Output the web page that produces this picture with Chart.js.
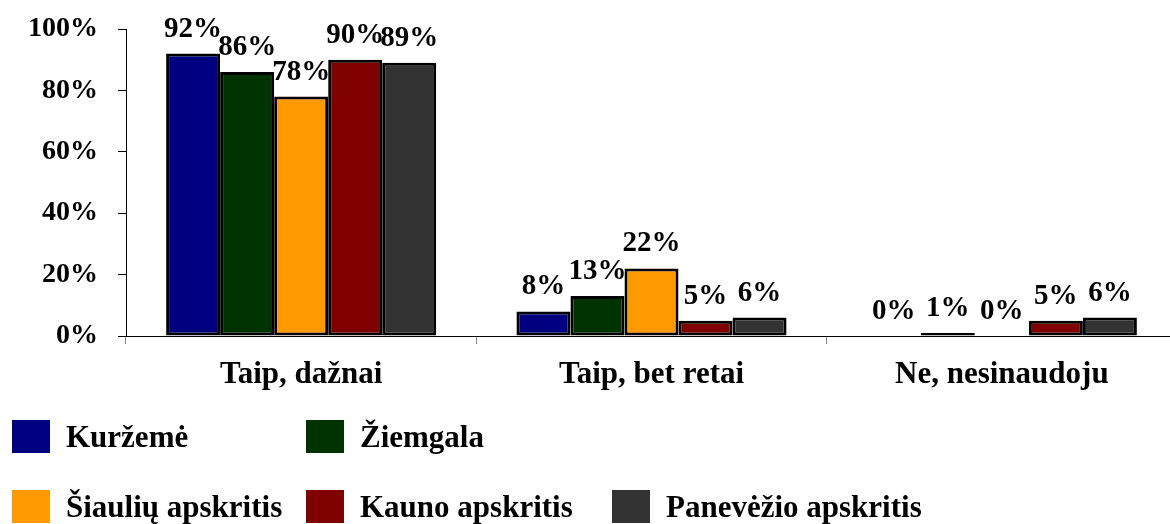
<!DOCTYPE html>
<html>
<head>
<meta charset="utf-8">
<script src="https://cdn.jsdelivr.net/npm/chart.js@4"></script>
<style>
	body { margin: 0; overflow: hidden; background: #fff; }
	#wrap { position: relative; width: 1170px; height: 524px; overflow: hidden; }
	#chart { position: absolute; left: 0; top: 0; }
	.lg-item { position: absolute; height: 33px; display: flex; align-items: center; }
	.lg-box { width: 38px; height: 33px; margin-right: 16px; }
	.lg-text { font: bold 31px "Liberation Serif", serif; color: #000; white-space: nowrap; }
</style>
</head>
<body>
<div id="wrap">
	<canvas id="chart" width="1180" height="524"></canvas>
</div>
<script>
// Data
const categories = ['Taip, dažnai', 'Taip, bet retai', 'Ne, nesinaudoju'];
const seriesNames = ['Kuržemė', 'Žiemgala', 'Šiaulių apskritis', 'Kauno apskritis', 'Panevėžio apskritis'];
const kurzeme = [92, 8, 0];
const ziemgala = [86, 13, 1];
const siauliai = [78, 22, 0];
const kaunas = [90, 5, 5];
const panevezys = [89, 6, 6];
const yTicks = [0, 20, 40, 60, 80, 100];

const seriesValues = [kurzeme, ziemgala, siauliai, kaunas, panevezys];
const seriesColors = ['#000080', '#003300', '#FF9900', '#800000', '#333333'];

const serif = '"Liberation Serif", serif';

// value labels above every bar
const barLabels = {
	id: 'barLabels',
	afterDatasetsDraw(chart) {
		const ctx = chart.ctx;
		ctx.save();
		ctx.font = `bold 29px ${serif}`;
		ctx.fillStyle = '#000';
		ctx.textAlign = 'center';
		ctx.textBaseline = 'alphabetic';
		chart.data.datasets.forEach((ds, i) => {
			chart.getDatasetMeta(i).data.forEach((bar, j) => {
				ctx.fillText(`${Math.round(ds.data[j])}%`, bar.x, bar.y - 17);
			});
		});
		ctx.restore();
	}
};

new Chart(document.getElementById('chart'), {
	type: 'bar',
	data: {
		labels: categories,
		datasets: seriesNames.map((name, i) => ({
			label: name,
			data: seriesValues[i],
			backgroundColor: seriesColors[i],
			borderColor: '#000',
			borderWidth: 3,
			borderSkipped: false,
			barPercentage: 1,
			categoryPercentage: 0.771
		}))
	},
	options: {
		responsive: false,
		animation: false,
		devicePixelRatio: 1,
		layout: { padding: { top: 29, right: 3, left: 0, bottom: 0 } },
		scales: {
			x: {
				afterFit: (scale) => { scale.height = 188; },
				border: { color: '#000', width: 1 },
				grid: { offset: true, drawOnChartArea: false, tickLength: 8, tickColor: '#888' },
				ticks: { color: '#000', padding: 12, font: { family: serif, size: 31, weight: 'bold' } }
			},
			y: {
				min: 0,
				max: 100,
				afterFit: (scale) => {
					scale.width = 126;
					// keep the plot top fixed by the layout padding
					scale.paddingTop = 0;
					scale.paddingBottom = 0;
				},
				afterBuildTicks: (scale) => { scale.ticks = yTicks.map(v => ({ value: v })); },
				border: { color: '#000', width: 1 },
				grid: { drawOnChartArea: false, tickLength: 8, tickColor: '#000' },
				ticks: {
					color: '#000',
					padding: 20,
					font: { family: serif, size: 28, weight: 'bold' },
					callback: (value) => `${value}%`
				}
			}
		},
		plugins: {
			legend: { display: false },
			tooltip: { enabled: false }
		}
	},
	plugins: [barLabels]
});

// legend below the chart, two rows
const legendRows = [[0, 1], [2, 3, 4]];
const legendCols = [12, 306, 612];
const legendTops = [420, 490];
const wrap = document.getElementById('wrap');
legendRows.forEach((row, r) => {
	row.forEach((idx, c) => {
		const item = document.createElement('div');
		item.className = 'lg-item';
		item.style.left = legendCols[c] + 'px';
		item.style.top = legendTops[r] + 'px';
		item.innerHTML = `<div class="lg-box" style="background:${seriesColors[idx]}"></div><span class="lg-text">${seriesNames[idx]}</span>`;
		wrap.appendChild(item);
	});
});
</script>
</body>
</html>
